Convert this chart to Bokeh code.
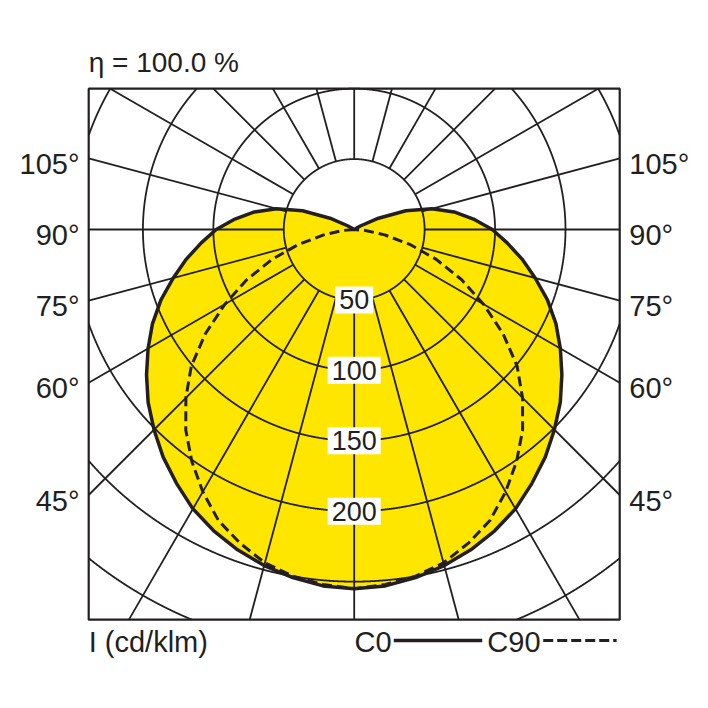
import numpy as np
from bokeh.plotting import figure
from bokeh.models import Range1d
from bokeh.core.properties import value
from bokeh.embed import file_html
from bokeh.resources import INLINE

# ---------------- data ----------------
gamma_deg = list(range(0, 185, 5))          # angle from nadir, 0..180
c0_values = [255, 254, 251, 247, 242, 236, 229, 220, 211, 201, 191, 180, 169,
             158, 146, 133, 121, 109, 98, 85, 72, 57, 39, 19, 5, 0,
             0, 0, 0, 0, 0, 0, 0, 0, 0, 0, 0]
c90_values = [255, 253, 250, 245, 237, 228, 215, 201, 186, 169, 151, 129, 106,
              84, 62, 41, 22, 8, 0,
              0, 0, 0, 0, 0, 0, 0, 0, 0, 0, 0, 0, 0, 0, 0, 0, 0, 0]
ring_values = [50, 100, 150, 200, 250, 300]
ring_label_values = [50, 100, 150, 200]
ring_labels = ["50", "100", "150", "200"]
spoke_step_deg = 15
angle_tick_values = [105, 90, 75, 60, 45]
angle_tick_labels = ["105°", "90°", "75°", "60°", "45°"]
title_text = "η = 100.0 %"
unit_text = "I (cd/klm)"
legend_names = ["C0", "C90"]

# ---------------- layout / style ----------------
FONT = value("Liberation Sans")
INK = "#231F20"
YELLOW = "#FFE600"
BX0, BX1, BY0, BY1 = -188.5, 188.5, -277.0, 100.0   # frame box in cd/klm units

p = figure(width=692, height=692,
           x_range=Range1d(-251.12, 240.18), y_range=Range1d(-328.72, 162.59),
           output_backend="svg", toolbar_location=None,
           x_axis_type=None, y_axis_type=None, min_border=0,
           outline_line_color=None, background_fill_color="white",
           border_fill_color="white")


def polar_xy(angles_deg, vals):
    a = np.radians(np.asarray(angles_deg, dtype=float))
    v = np.asarray(vals, dtype=float)
    return v * np.sin(a), -v * np.cos(a)


# full symmetric curves (-180..180)
g_full = [-g for g in gamma_deg[::-1]] + gamma_deg[1:]
c0_full = c0_values[::-1] + c0_values[1:]
x0, y0 = polar_xy(g_full, c0_full)

# yellow fill of C0
p.patch(x0, y0, fill_color=YELLOW, line_color=None)

# grid circles, clipped to the frame
for r in ring_values:
    t = np.linspace(0, 2 * np.pi, 7201)
    cx = r * np.sin(t)
    cy = r * np.cos(t)
    m = (cx < BX0) | (cx > BX1) | (cy < BY0) | (cy > BY1)
    cx[m] = np.nan
    cy[m] = np.nan
    p.line(cx, cy, line_color=INK, line_width=1.8)

# radial lines every 15 degrees from the inner ring to the frame
sx0, sy0, sx1, sy1 = [], [], [], []
for g in range(0, 360, spoke_step_deg):
    ux, uy = np.sin(np.radians(g)), -np.cos(np.radians(g))
    ts = []
    if ux > 1e-9:
        ts.append(BX1 / ux)
    if ux < -1e-9:
        ts.append(BX0 / ux)
    if uy > 1e-9:
        ts.append(BY1 / uy)
    if uy < -1e-9:
        ts.append(BY0 / uy)
    tm = min(ts)
    r0 = ring_values[0]
    sx0.append(r0 * ux); sy0.append(r0 * uy)
    sx1.append(tm * ux); sy1.append(tm * uy)
p.segment(sx0, sy0, sx1, sy1, line_color=INK, line_width=1.8)

# frame
p.quad(left=[BX0], right=[BX1], bottom=[BY0], top=[BY1],
       fill_alpha=0, line_color=INK, line_width=2.2)

# C90 dashed
g90 = [g for g in g_full if abs(g) <= 90]
c90_full = c90_values[::-1] + c90_values[1:]
v90 = [v for g, v in zip(g_full, c90_full) if abs(g) <= 90]
x90, y90 = polar_xy(g90, v90)
p.line(x90, y90, line_color=INK, line_width=3, line_dash="10 5",
       line_join="round")

# C0 solid outline
p.line(np.append(x0, x0[0]), np.append(y0, y0[0]), line_color=INK,
       line_width=3.5, line_join="round")

# ring labels with white boxes
p.text(x=[0] * len(ring_label_values), y=[-v for v in ring_label_values],
       text=ring_labels, text_font=FONT, text_font_size="27px",
       text_color=INK, text_align="center", text_baseline="middle",
       background_fill_color="white", padding=4)

# angle labels on both sides of the frame
ang = np.radians(angle_tick_values)
label_y = list(-BX1 / np.tan(ang) - 4.0)
p.text(x=[BX0 - 6.5] * len(label_y), y=label_y, text=angle_tick_labels,
       text_font=FONT, text_font_size="29px", text_color=INK,
       text_align="right", text_baseline="middle")
p.text(x=[BX1 + 6.8] * len(label_y), y=label_y, text=angle_tick_labels,
       text_font=FONT, text_font_size="29px", text_color=INK,
       text_align="left", text_baseline="middle")

# title
p.text(x=[BX0], y=[BY1 + 18.5], text=[title_text], text_font=FONT,
       text_font_size="28px", text_color=INK, text_align="left",
       text_baseline="middle")

# unit + legend
LEG_Y = BY0 - 16.0
p.text(x=[BX0], y=[LEG_Y], text=[unit_text], text_font=FONT,
       text_font_size="29px", text_color=INK, text_align="left",
       text_baseline="middle")
p.text(x=[0.2, 94.5], y=[LEG_Y, LEG_Y], text=legend_names, text_font=FONT,
       text_font_size="29px", text_color=INK, text_align="left",
       text_baseline="middle")
p.line([28.1, 90.9], [LEG_Y + 1.2, LEG_Y + 1.2], line_color=INK, line_width=3.4)
p.line([134.2, 186.3], [LEG_Y + 1.2, LEG_Y + 1.2], line_color=INK,
       line_width=3, line_dash="10 4")

open("out.html", "w").write(file_html(p, INLINE))
